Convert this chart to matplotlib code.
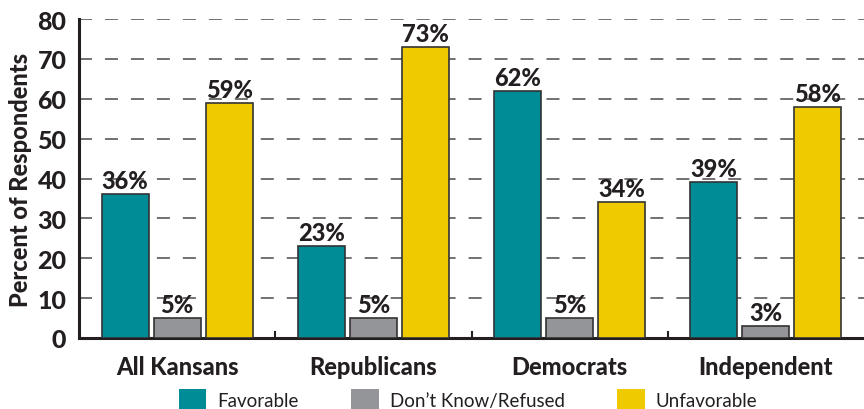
import matplotlib
matplotlib.use("Agg")
import matplotlib.pyplot as plt
import matplotlib.patches as mpatches
import numpy as np

categories = ["All Kansans", "Republicans", "Democrats", "Independent"]
series_names = ["Favorable", "Don\u2019t Know/Refused", "Unfavorable"]
favorable = [36, 23, 62, 39]
dont_know = [5, 5, 5, 3]
unfavorable = [59, 73, 34, 58]
yticks = [0, 10, 20, 30, 40, 50, 60, 70, 80]

colors = ["#008C96", "#939598", "#EFCA00"]
edge = "#333333"
font = "Lato"
heavy = 900

fig = plt.figure(figsize=(8.64, 4.10), dpi=100)
ax = fig.add_axes([79/864, 71/410, (864-79)/864, (339-20)/410])

x = np.arange(len(categories)) + 0.5
w = 0.24
step = 0.265
for i, (vals, c) in enumerate(zip([favorable, dont_know, unfavorable], colors)):
    pos = x + (i - 1) * step
    ax.bar(pos, vals, width=w, color=c, edgecolor=edge, linewidth=1.2, zorder=3)
    for p, v in zip(pos, vals):
        ax.text(p, v + 0.5, f"{v}%", ha="center", va="bottom", fontsize=17,
                fontweight=heavy, color="#231F20", family=font, zorder=4)

ax.set_xlim(0, 4)
ax.set_ylim(0, 80)
ax.set_yticks(yticks)
ax.set_yticklabels([str(t) for t in yticks], fontsize=18, fontweight=heavy,
                   family=font, color="#231F20")
ax.tick_params(axis="y", length=0, pad=9)
ax.set_xticks(x)
ax.set_xticklabels(categories, fontsize=17, fontweight=heavy, family=font,
                   color="#231F20")
ax.tick_params(axis="x", length=0, pad=12)
for b in [1, 2, 3]:
    ax.plot([b, b], [0, 1.6], color="#231F20", lw=1.5, zorder=4, clip_on=False)

ax.yaxis.grid(True, linestyle=(0, (8.5, 8.5)), color="#4a4a4a", linewidth=1.1, zorder=0)
ax.set_axisbelow(True)
for s in ["top", "right"]:
    ax.spines[s].set_visible(False)
ax.spines["left"].set_linewidth(2.2)
ax.spines["bottom"].set_linewidth(2.2)
ax.spines["left"].set_color("#231F20")
ax.spines["bottom"].set_color("#231F20")

ax.set_ylabel("Percent of Respondents", fontsize=17, fontweight=heavy,
              family=font, color="#231F20", labelpad=4)

handles = [mpatches.Patch(facecolor=c, edgecolor="none") for c in colors]
leg = fig.legend(handles, series_names, loc="lower center",
                 bbox_to_anchor=(0.542, -0.045), ncol=3, frameon=False,
                 prop={"family": font, "size": 13.5}, handlelength=1.45,
                 handleheight=1.4, columnspacing=2.8, handletextpad=0.6)
for t in leg.get_texts():
    t.set_color("#231F20")

fig.savefig("out.png", dpi=100)
